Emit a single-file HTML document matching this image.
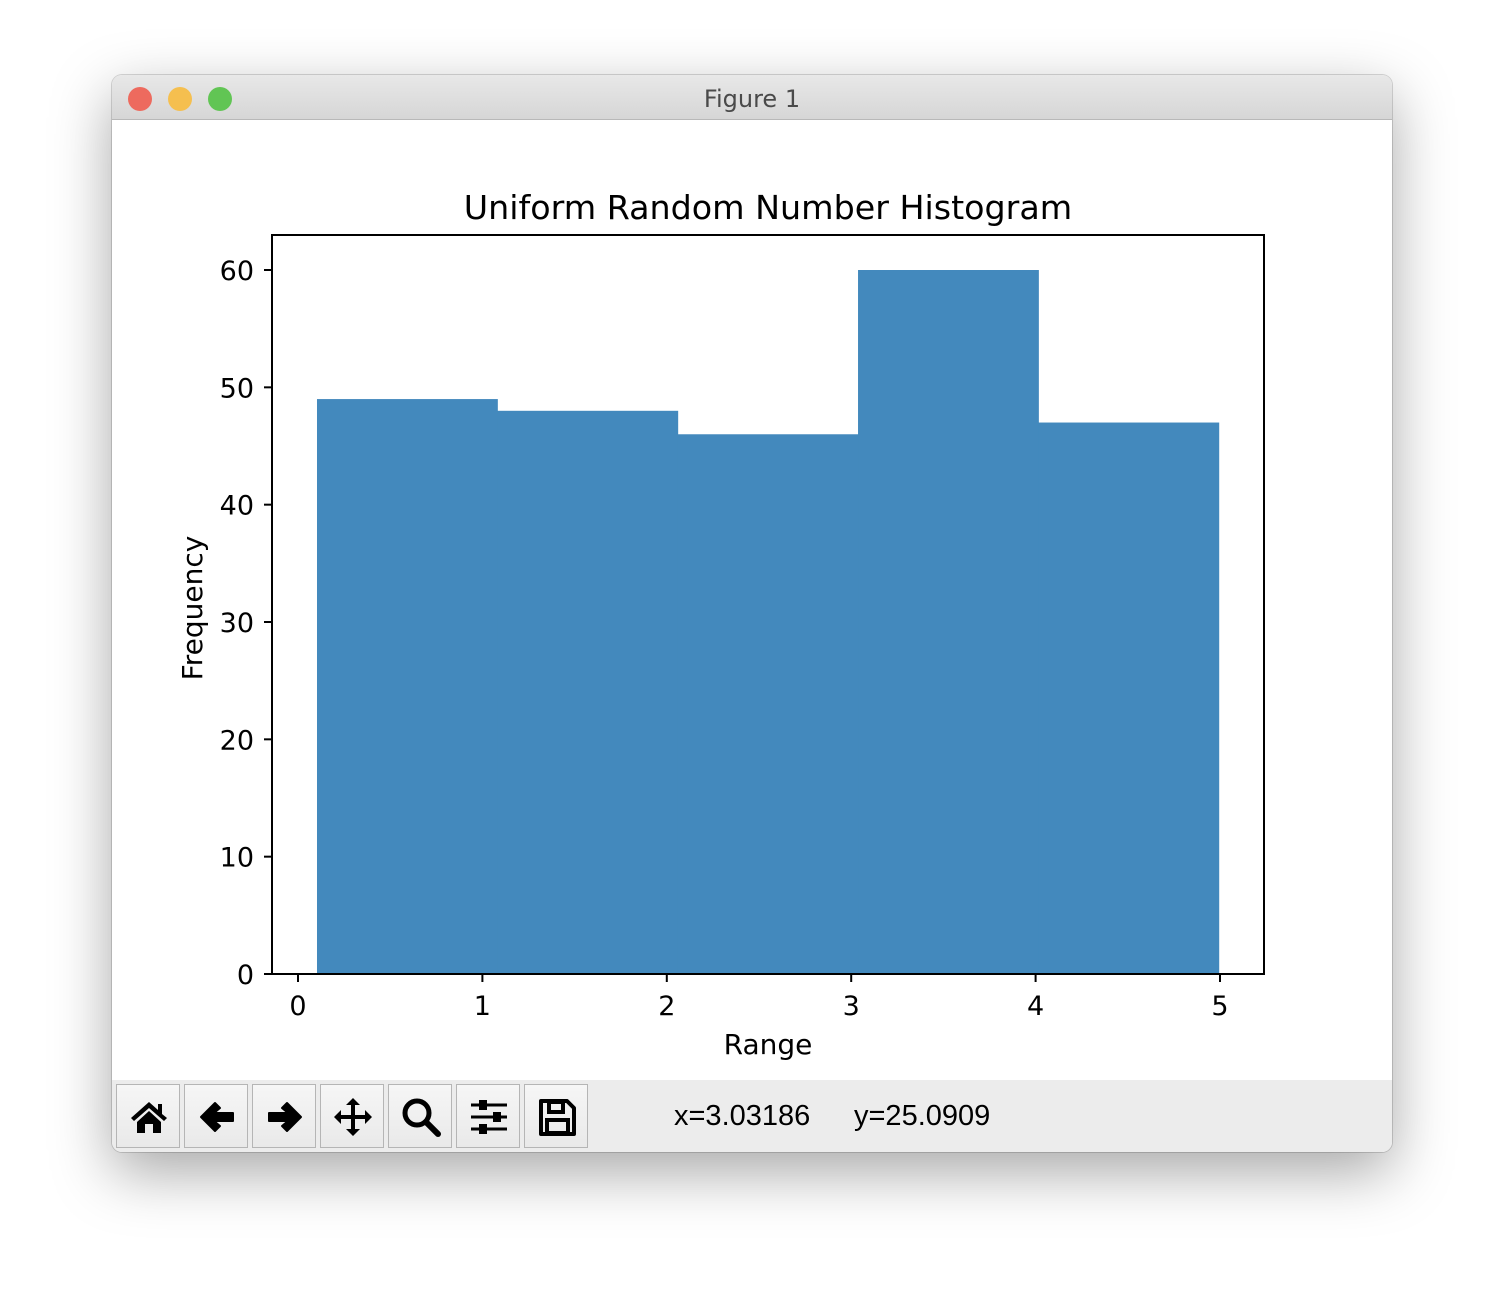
<!DOCTYPE html>
<html><head><meta charset="utf-8"><style>
body{margin:0;width:1504px;height:1300px;background:#fff;font-family:"DejaVu Sans","Liberation Sans",sans-serif;overflow:hidden}
#win{position:absolute;left:112px;top:75px;width:1280px;height:1077px;background:#fff;border-radius:10px;box-shadow:0 20px 60px rgba(0,0,0,0.35),0 0 0 1px rgba(0,0,0,0.15);overflow:hidden}
#titlebar{position:absolute;left:0;top:0;width:1280px;height:44px;background:linear-gradient(#e8e8e8,#d6d6d6);border-bottom:1px solid #b8b8b8;text-align:center;line-height:48px;font-size:24px;color:#4a4a4a}
.dot{position:absolute;top:12px;width:24px;height:24px;border-radius:50%}
#toolbar{position:absolute;left:0;top:1005px;width:1280px;height:72px;background:#ececec}
.btn{position:absolute;top:4px;width:64px;height:64px;border:1px solid #b5b5b5;background:linear-gradient(#f6f6f6,#e9e9e9);box-sizing:border-box}
.btn svg{position:absolute;left:12px;top:12px}
.ct{position:absolute;top:20px;font-size:29px;color:#000;font-family:"Liberation Sans",sans-serif;white-space:pre}
</style></head><body>
<div id="win">
<div id="titlebar">Figure 1
<div class="dot" style="left:16px;background:#ed6a5e"></div>
<div class="dot" style="left:56px;background:#f5bf4f"></div>
<div class="dot" style="left:96px;background:#61c554"></div>
</div>
<div id="toolbar">
<div class="btn" style="left:4px"><svg width="40" height="40" viewBox="0 0 40 40"><path d="M2 21 L20 5 L29 13 L29 7 L33 7 L33 17 L38 21 L35 24 L20 11 L5 24Z M8 25 L20 14 L32 25 L32 36 L24 36 L24 27 L16 27 L16 36 L8 36Z" fill="#000"/></svg></div>
<div class="btn" style="left:72px"><svg width="40" height="40" viewBox="0 0 40 40"><path d="M4 20 L18 6 L23 11 L17 16 L36 16 L36 24 L17 24 L23 29 L18 34Z" fill="#000" stroke="#000" stroke-linejoin="round" stroke-width="2"/></svg></div>
<div class="btn" style="left:140px"><svg width="40" height="40" viewBox="0 0 40 40"><path d="M36 20 L22 6 L17 11 L23 16 L4 16 L4 24 L23 24 L17 29 L22 34Z" fill="#000" stroke="#000" stroke-linejoin="round" stroke-width="2"/></svg></div>
<div class="btn" style="left:208px"><svg width="40" height="40" viewBox="0 0 40 40"><path d="M20 1 L27 8 L22 8 L22 18 L32 18 L32 13 L39 20 L32 27 L32 22 L22 22 L22 32 L27 32 L20 39 L13 32 L18 32 L18 22 L8 22 L8 27 L1 20 L8 13 L8 18 L18 18 L18 8 L13 8Z" fill="#000"/></svg></div>
<div class="btn" style="left:276px"><svg width="40" height="40" viewBox="0 0 40 40"><circle cx="16" cy="16" r="12" fill="none" stroke="#000" stroke-width="5"/><line x1="25" y1="25" x2="37" y2="37" stroke="#000" stroke-width="6" stroke-linecap="round"/></svg></div>
<div class="btn" style="left:344px"><svg width="40" height="40" viewBox="0 0 40 40"><g stroke="#000" stroke-width="3"><line x1="2" y1="8" x2="38" y2="8"/><line x1="2" y1="20" x2="38" y2="20"/><line x1="2" y1="32" x2="38" y2="32"/></g><rect x="10" y="3" width="8" height="10" fill="#000"/><rect x="24" y="15" width="8" height="10" fill="#000"/><rect x="10" y="27" width="8" height="10" fill="#000"/></svg></div>
<div class="btn" style="left:412px"><svg width="40" height="40" viewBox="0 0 40 40"><path d="M4 4 L30 4 L37 11 L37 37 L4 37Z" fill="none" stroke="#000" stroke-width="4" stroke-linejoin="round"/><rect x="12" y="5" width="14" height="10" fill="none" stroke="#000" stroke-width="4"/><rect x="10" y="23" width="21" height="13" fill="none" stroke="#000" stroke-width="4"/></svg></div>
<div class="ct" style="left:562px">x=3.03186</div>
<div class="ct" style="left:742px">y=25.0909</div>
</div>
</div>
<svg id="chart" width="1504" height="1300" style="position:absolute;left:0;top:0"></svg>
<script>
const binEdges=[0.103,1.081,2.059,3.037,4.015,4.993];
const frequencies=[49,48,46,60,47];
const xTicks=[0,1,2,3,4,5];
const yTicks=[0,10,20,30,40,50,60];
const NS="http://www.w3.org/2000/svg";
const svg=document.getElementById('chart');
function xs(v){return 298+v*(1220-298)/5;}
function ys(v){return 974-v*(974-270)/60;}
function mk(t,a,txt){const e=document.createElementNS(NS,t);for(const k in a)e.setAttribute(k,a[k]);if(txt!==undefined)e.textContent=txt;svg.appendChild(e);return e;}
for(let i=0;i<frequencies.length;i++){
 const r=mk('rect',{x:xs(binEdges[i]),y:ys(frequencies[i]),width:xs(binEdges[i+1])-xs(binEdges[i])+0.5,height:ys(0)-ys(frequencies[i]),fill:'#4389bd'});
 
 
}
const ax=mk('rect',{x:272,y:235,width:992,height:739,fill:'none',stroke:'#000','stroke-width':2});


xTicks.forEach(v=>{
 mk('line',{x1:xs(v),x2:xs(v),y1:974,y2:982,stroke:'#000','stroke-width':2});
 const t=mk('text',{x:xs(v),y:1015,'text-anchor':'middle','font-size':27,'font-family':'DejaVu Sans, sans-serif'},String(v));
 
 
});
yTicks.forEach(v=>{
 mk('line',{x1:264,x2:272,y1:ys(v),y2:ys(v),stroke:'#000','stroke-width':2});
 const t=mk('text',{x:254,y:ys(v)+10,'text-anchor':'end','font-size':27,'font-family':'DejaVu Sans, sans-serif'},String(v));
 
 
});
const ti=mk('text',{x:768,y:219,'text-anchor':'middle','font-size':33.3,'font-family':'DejaVu Sans, sans-serif'},'Uniform Random Number Histogram');


const xl=mk('text',{x:768,y:1054,'text-anchor':'middle','font-size':28,'font-family':'DejaVu Sans, sans-serif'},'Range');


const yl=mk('text',{x:0,y:0,'text-anchor':'middle','font-size':28,'font-family':'DejaVu Sans, sans-serif',transform:'translate(202,608) rotate(-90)'},'Frequency');


</script>
</body></html>
